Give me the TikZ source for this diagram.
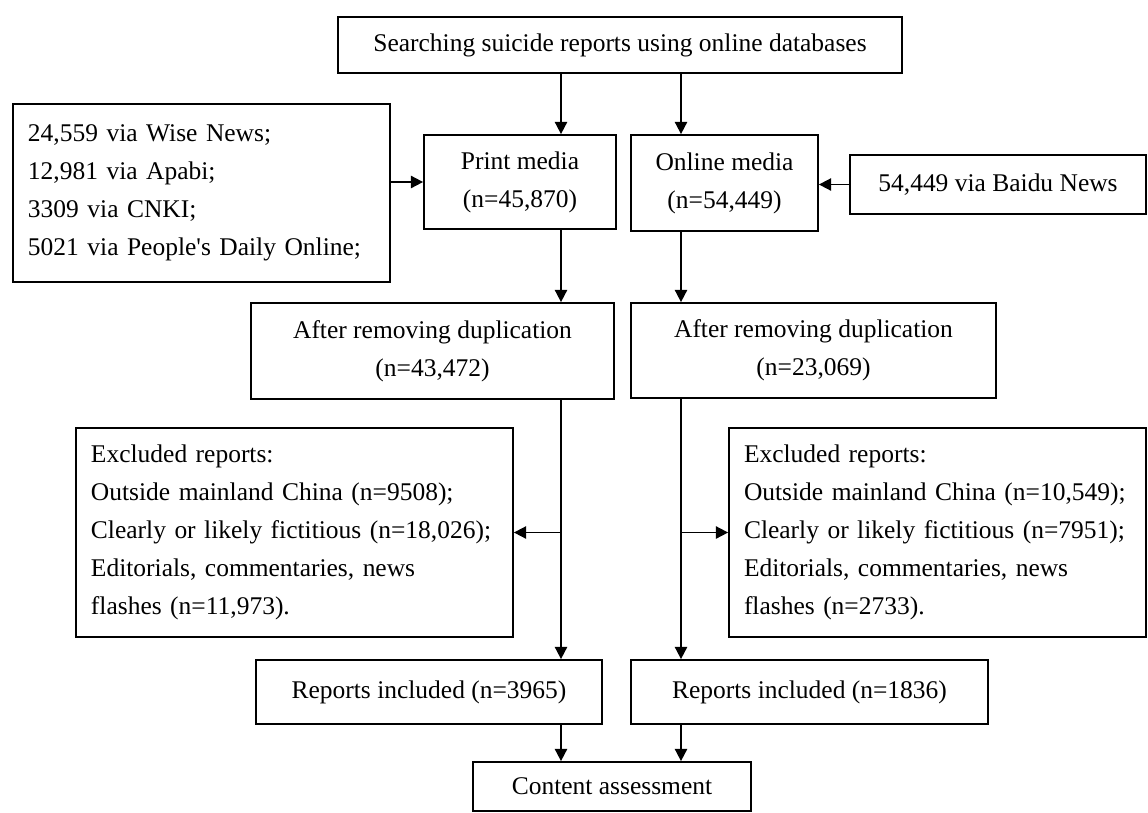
\documentclass[tikz,border=0pt]{standalone}
\usepackage{fontspec}
\setmainfont{Liberation Serif}
\usetikzlibrary{arrows.meta}

\tikzset{
	box/.style={draw, line width=1pt, inner sep=0pt, align=center,
		font=\fontsize{14.5}{21.6}\selectfont},
	listbox/.style={box, align=left, inner xsep=0.3cm},
	link/.style={line width=1pt, ->}
}

\begin{document}
\begin{tikzpicture}[x=0.2mm, y=-0.2mm, >={Triangle[length=7pt, width=7pt]}]
	\useasboundingbox (0, 0) rectangle (1148, 812);
	
	% Search
	\node[box, minimum width=11.28cm, minimum height=1.12cm] (search) at (620, 45)
		{Searching suicide reports using online databases};
	\node[listbox, text width=6.94cm, minimum width=7.54cm, minimum height=3.56cm] (sources) at (201.5, 193)
		{24,559 via Wise News;\\ 12,981 via Apabi;\\ 3309 via CNKI;\\ 5021 via People\textquotesingle s Daily Online;};
	\node[box, minimum width=3.84cm, minimum height=1.88cm] (print) at (520, 182)
		{Print media\\ (n=45,870)};
	\node[box, minimum width=3.74cm, minimum height=1.92cm] (online) at (724.5, 183)
		{Online media\\ (n=54,449)};
	\node[box, minimum width=5.92cm, minimum height=1.18cm] (baidu) at (998, 184.5)
		{54,449 via Baidu News};
	
	% Duplicates
	\node[box, minimum width=7.26cm, minimum height=1.92cm] (dupP) at (432.5, 351)
		{After removing duplication\\ (n=43,472)};
	\node[box, minimum width=7.30cm, minimum height=1.90cm] (dupO) at (813.5, 350.5)
		{After removing duplication\\ (n=23,069)};
	
	% Excluded
	\node[listbox, text width=8.14cm, minimum width=8.74cm, minimum height=4.18cm] (exclP) at (294.5, 532.5)
		{Excluded reports:\\ Outside mainland China (n=9508);\\ Clearly or likely fictitious (n=18,026);\\ Editorials, commentaries, news\\ flashes (n=11,973).};
	\node[listbox, text width=7.74cm, minimum width=8.34cm, minimum height=4.18cm] (exclO) at (937.5, 532.5)
		{Excluded reports:\\ Outside mainland China (n=10,549);\\ Clearly or likely fictitious (n=7951);\\ Editorials, commentaries, news\\ flashes (n=2733).};
	
	% Included
	\node[box, minimum width=6.92cm, minimum height=1.28cm] (inclP) at (429, 692)
		{Reports included (n=3965)};
	\node[box, minimum width=7.14cm, minimum height=1.28cm] (inclO) at (809.5, 692)
		{Reports included (n=1836)};
	\node[box, minimum width=5.56cm, minimum height=0.98cm] (content) at (612, 786.5)
		{Content assessment};
	
	\coordinate (colP) at (561, 0);
	\coordinate (colO) at (681, 0);
	
	\draw[link] (search.south -| colP) -- (print.north -| colP);
	\draw[link] (search.south -| colO) -- (online.north -| colO);
	\draw[link] (sources.east |- print.west) -- (print.west);
	\draw[link] (baidu.west) -- (online.east |- baidu.west);
	\draw[link] (print.south -| colP) -- (dupP.north -| colP);
	\draw[link] (online.south -| colO) -- (dupO.north -| colO);
	
	\draw[link] (dupP.south -| colP) -- (inclP.north -| colP);
	\draw[link] (dupO.south -| colO) -- (inclO.north -| colO);
	\draw[link] (exclP.east -| colP) -- (exclP.east);
	\draw[link] (exclO.west -| colO) -- (exclO.west);
	
	\draw[link] (inclP.south -| colP) -- (content.north -| colP);
	\draw[link] (inclO.south -| colO) -- (content.north -| colO);
\end{tikzpicture}
\end{document}
